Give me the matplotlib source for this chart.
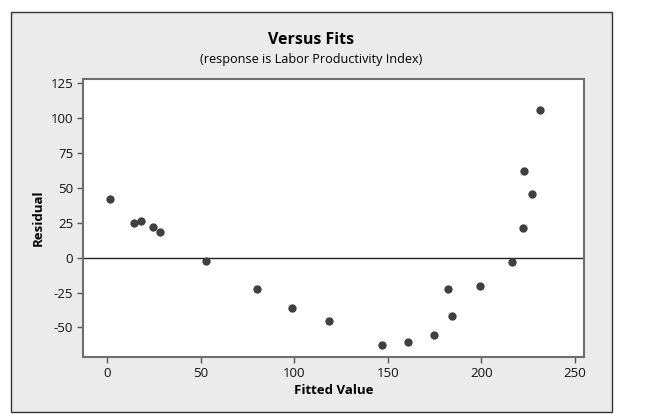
import matplotlib
matplotlib.use("Agg")
import matplotlib.pyplot as plt
from matplotlib.patches import Rectangle

fitted = [1.4, 14.3, 17.9, 24.5, 28.2, 52.9, 80.0, 98.9, 118.6,
          146.6, 160.7, 174.6, 182.0, 184.3, 199.3, 216.1, 222.1, 222.9, 227.1, 231.3]
residual = [41.8, 25.2, 26.0, 22.1, 18.5, -2.6, -22.1, -35.8, -45.7,
            -62.3, -60.8, -55.5, -22.4, -42.1, -20.0, -3.4, 21.6, 62.3, 45.7, 105.8]
xticks = [0, 50, 100, 150, 200, 250]
yticks = [-50, -25, 0, 25, 50, 75, 100, 125]

plt.rcParams['font.family'] = ['Open Sans', 'DejaVu Sans']
plt.rcParams['axes.unicode_minus'] = False

fig = plt.figure(figsize=(6.5, 4.18), dpi=100)
fig.patch.set_facecolor('white')

bg = fig.add_axes([0, 0, 1, 1], zorder=0)
bg.set_xlim(0, 650)
bg.set_ylim(418, 0)
bg.axis('off')
bg.add_patch(Rectangle((11, 12), 601, 400, facecolor='#ebebeb',
                       edgecolor='#333333', linewidth=1.0))

ax = fig.add_axes([83/650, 1-357/418, (584-83)/650, (357-79)/418], zorder=1)
ax.set_facecolor('white')
ax.scatter(fitted, residual, s=36, color='#404040', zorder=3, linewidths=0)
ax.axhline(0, color='#222222', linewidth=1.0, zorder=2)
ax.set_xlim(-12.9, 254.8)
ax.set_ylim(-71.2, 128.1)
ax.set_xticks(xticks)
ax.set_yticks(yticks)
for s in ax.spines.values():
    s.set_color('#6e6e6e')
    s.set_linewidth(1.5)
ax.tick_params(direction='out', length=4, width=1, color='#555555',
               labelsize=9.5, labelcolor='#111111', pad=3)
ax.set_xlabel('Fitted Value', fontsize=9.5, fontweight='bold', labelpad=3)
ax.set_ylabel('Residual', fontsize=9.5, fontweight='bold', labelpad=4)

fig.text(311.5/650, 1-40.5/418, 'Versus Fits', ha='center', va='center',
         fontsize=11.5, fontweight='bold')
fig.text(311.5/650, 1-59/418, '(response is Labor Productivity Index)',
         ha='center', va='center', fontsize=9.1)

fig.savefig('out.png', dpi=100)
